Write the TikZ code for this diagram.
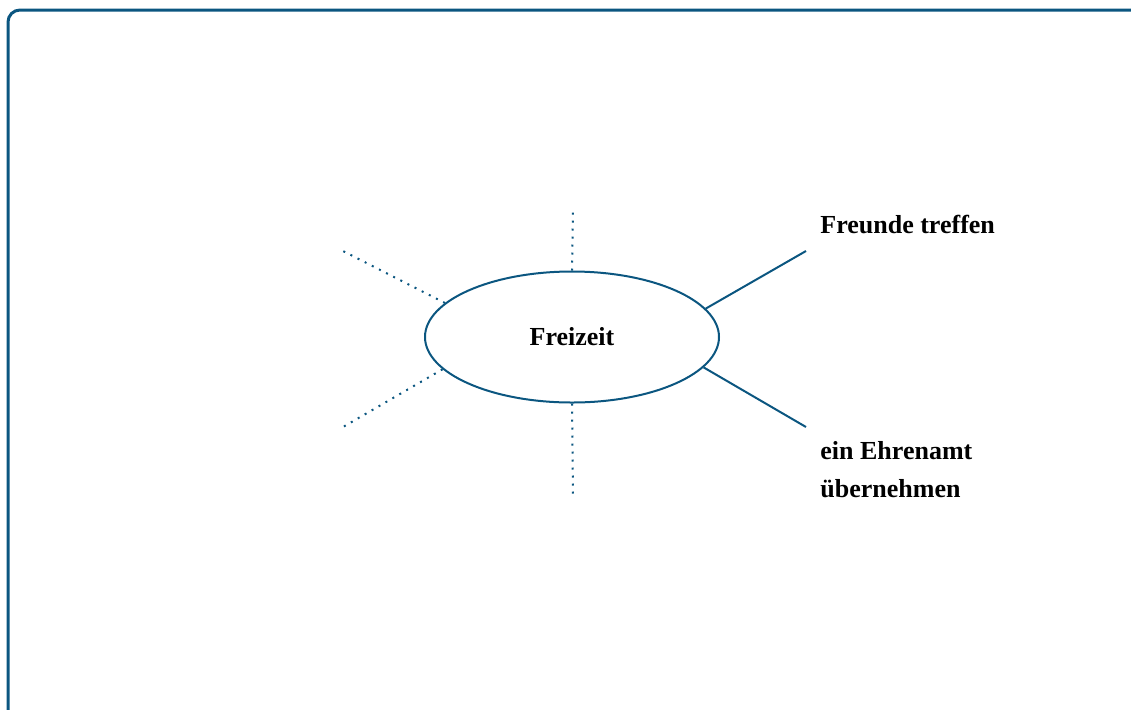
\documentclass[tikz,border=0pt]{standalone}
\usepackage{fontspec}
\setmainfont{Liberation Serif}
\usepackage{tikz}
\usetikzlibrary{shapes.geometric}
\definecolor{mapblue}{HTML}{0B5680}
\tikzstyle{topic}=[ellipse,draw=mapblue,line width=1pt,minimum width=147pt,minimum height=65.5pt,inner sep=0pt,font=\bfseries\fontsize{13}{18.5}\selectfont]
\tikzstyle{leaftext}=[inner sep=0pt,align=left,font=\bfseries\fontsize{13}{18.5}\selectfont]
\tikzstyle{branch} = [draw=mapblue,line width=1pt,-]
\tikzstyle{blank} = [draw=mapblue,line width=1pt,dash pattern=on 1pt off 3pt,-]

\begin{document}
\begin{tikzpicture}[x=0.5pt,y=-0.5pt]
    \useasboundingbox (0,0) rectangle (1131,709);
    \clip (0,0) rectangle (1131,709);
    % Frame round the page
    \draw[mapblue,line width=1.5pt,rounded corners=6pt] (8,10) rectangle (1150,730);
    % The centre of the mind map
    \node[topic] (freizeit) at (572,337) {Freizeit};
    % Ends of the branches
    \coordinate (friends) at (806,251);
    \coordinate (office) at (806,427);
    \coordinate (top) at (573,212);
    \coordinate (bottom) at (573,495);
    \coordinate (upleft) at (341,250);
    \coordinate (downleft) at (343,427);
    % Filled branches
    \path[branch] (freizeit.12.6) -- (friends);
    \path[branch] (freizeit.347.6) -- (office);
    % Empty branches, still to be filled
    \path[blank] (freizeit.north) -- (top);
    \path[blank] (freizeit.south) -- (bottom);
    \path[blank] (freizeit.165.9) -- (upleft);
    \path[blank] (freizeit.194.8) -- (downleft);
    % Labels of the filled branches
    \node[leaftext,anchor=base west] (friendstext) at (820,233) {Freunde treffen};
    \node[leaftext,anchor=north west] (officetext) at (820,441) {ein Ehrenamt\\[0.5pt]übernehmen};
\end{tikzpicture}
\end{document}
